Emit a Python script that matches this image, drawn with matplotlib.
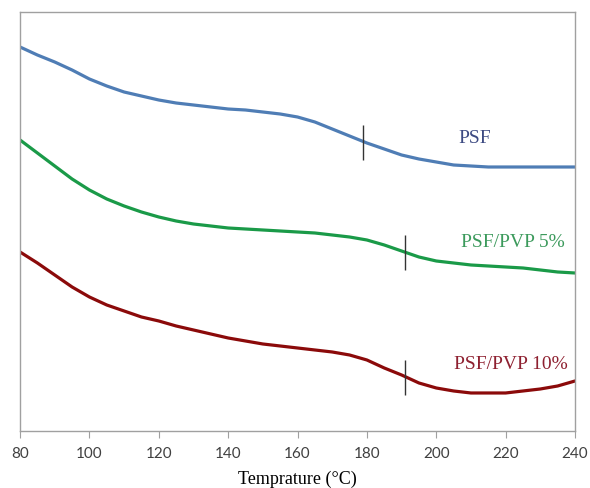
import numpy as np
import matplotlib.pyplot as plt

# DSC traces (heat flow, arbitrary units) for the three membranes
temp = np.arange(80, 241, 5)
psf = [384, 376, 369, 361, 352, 345, 339, 335, 331, 328, 326, 324, 322, 321, 319, 317, 314,
       309, 302, 295, 288, 282, 276, 272, 269, 266, 265, 264, 264, 264, 264, 264, 264]
pvp5 = [291, 278, 265, 252, 241, 232, 225, 219, 214, 210, 207, 205, 203, 202, 201, 200, 199,
        198, 196, 194, 191, 186, 180, 174, 170, 168, 166, 165, 164, 163, 161, 159, 158]
pvp10 = [179, 168, 156, 144, 134, 126, 120, 114, 110, 105, 101, 97, 93, 90, 87, 85, 83,
         81, 79, 76, 71, 63, 56, 48, 43, 40, 38, 38, 38, 40, 42, 45, 50]

names = ['PSF', 'PSF/PVP 5%', 'PSF/PVP 10%']
tg = [179, 191, 191]
line_colors = ['#4f7db5', '#1a9a48', '#8b0a0a']
text_colors = ['#3d4a82', '#3c9a5c', '#8e2030']
label_pos = [(211, 293), (222, 189), (221.5, 67)]

fig = plt.figure(figsize=(5.9, 4.89), dpi=100)
ax = fig.add_axes([0.034, 0.1166, 0.9406, 0.8568])

for y, name, t, lc, tc, (lx, ly) in zip([psf, pvp5, pvp10], names, tg, line_colors, text_colors, label_pos):
    ax.plot(temp, y, color=lc, lw=2.3, solid_capstyle='round', solid_joinstyle='round')
    yc = np.interp(t, temp, y)
    ax.vlines(t, yc - 18, yc + 17, color='#333333', lw=1)
    ax.text(lx, ly, name, color=tc, fontsize=14, family='Liberation Serif',
            ha='center', va='center')

ax.set_xlim(80, 240)
ax.set_ylim(0, 419)
ax.set_xticks(np.arange(80, 241, 20))
ax.set_yticks([])
ax.tick_params(axis='x', direction='out', length=5, color='#a0a0a0',
               labelsize=11, labelcolor='#404040', pad=6)
for lab in ax.get_xticklabels():
    lab.set_family('Lato')
for s in ax.spines.values():
    s.set_color('#a0a0a0')
    s.set_linewidth(1)
ax.set_xlabel('Temprature (°C)', fontsize=13, family='Liberation Serif', labelpad=7)

fig.savefig('out.png', dpi=100)
